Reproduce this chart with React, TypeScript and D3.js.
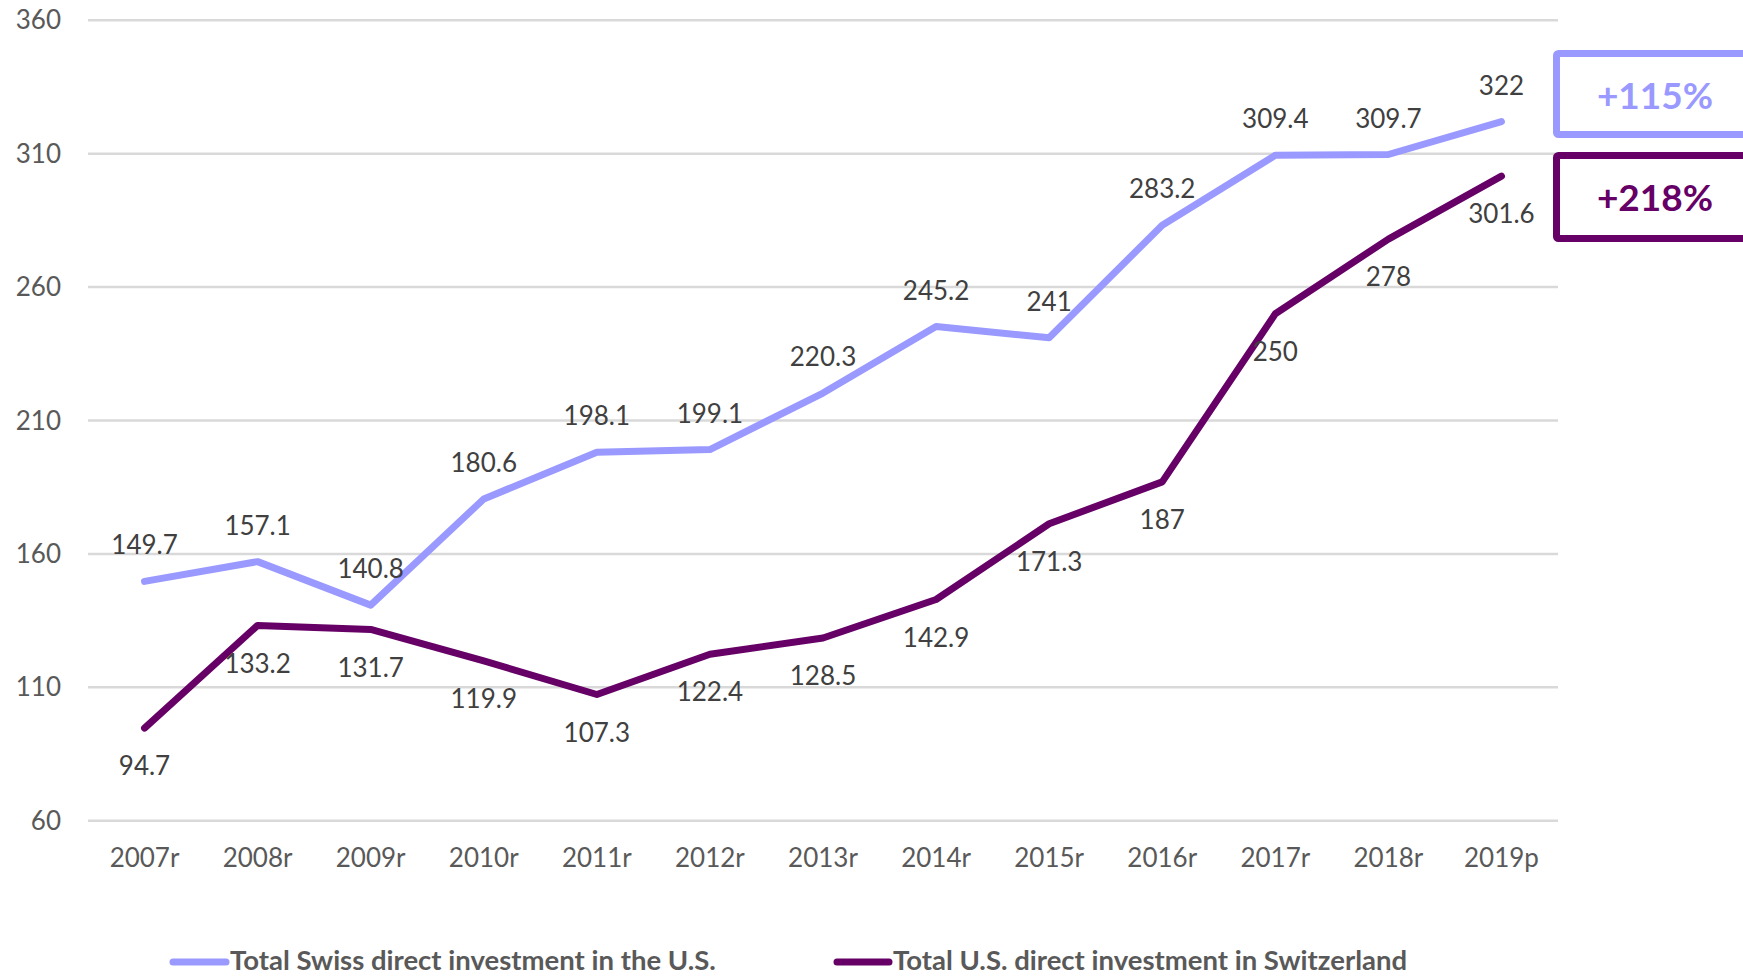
import React from "react";
import * as d3 from "d3";

const categories = ["2007r", "2008r", "2009r", "2010r", "2011r", "2012r", "2013r", "2014r", "2015r", "2016r", "2017r", "2018r", "2019p"];
const swissInUS = [149.7, 157.1, 140.8, 180.6, 198.1, 199.1, 220.3, 245.2, 241, 283.2, 309.4, 309.7, 322];
const usInSwiss = [94.7, 133.2, 131.7, 119.9, 107.3, 122.4, 128.5, 142.9, 171.3, 187, 250, 278, 301.6];
const yTicks = [60, 110, 160, 210, 260, 310, 360];
const seriesNames = ["Total Swiss direct investment in the U.S.", "Total U.S. direct investment in Switzerland"];
const growthLabels = ["+115%", "+218%"];

const W = 1743, H = 977;
const LIGHT = "#9999ff", DARK = "#660066";
const FONT = "Lato, 'Open Sans', sans-serif";

export default function App() {
  const x = d3.scalePoint<string>().domain(categories).range([88, 1558]).padding(0.5);
  const y = d3.scaleLinear().domain([60, 360]).range([820.7, 20.3]);
  const line = d3.line<number>().x((_, i) => x(categories[i])!).y(d => y(d));

  return (
    <svg width={W} height={H} style={{ position: "absolute", left: 0, top: 0, background: "#fff" }} fontFamily={FONT}>
      {yTicks.map(t => (
        <g key={t}>
          <line x1={88} x2={1558} y1={y(t)} y2={y(t)} stroke="#d9d9d9" strokeWidth={2.5} />
          <text x={61} y={y(t)} dy="0.35em" textAnchor="end" fontSize={26} fill="#595959">{t}</text>
        </g>
      ))}
      {categories.map(c => (
        <text key={c} x={x(c)} y={858} dy="0.35em" textAnchor="middle" fontSize={26} fill="#595959">{c}</text>
      ))}
      <path d={line(swissInUS) || ""} fill="none" stroke={LIGHT} strokeWidth={7} strokeLinecap="round" strokeLinejoin="round" />
      <path d={line(usInSwiss) || ""} fill="none" stroke={DARK} strokeWidth={7} strokeLinecap="round" strokeLinejoin="round" />
      {swissInUS.map((v, i) => (
        <text key={"a" + i} x={x(categories[i])} y={y(v) - 36} dy="0.35em" textAnchor="middle" fontSize={26} fill="#404040">{v}</text>
      ))}
      {usInSwiss.map((v, i) => (
        <text key={"b" + i} x={x(categories[i])} y={y(v) + 38} dy="0.35em" textAnchor="middle" fontSize={26} fill="#404040">{v}</text>
      ))}
      <rect x={1556.5} y={53.5} width={200} height={81} fill="#fff" stroke={LIGHT} strokeWidth={7} rx={2} />
      <text x={1655} y={96} dy="0.35em" textAnchor="middle" fontSize={37} fontWeight="bold" fill={LIGHT}>{growthLabels[0]}</text>
      <rect x={1556.5} y={155.5} width={200} height={83} fill="#fff" stroke={DARK} strokeWidth={7} rx={2} />
      <text x={1655} y={198} dy="0.35em" textAnchor="middle" fontSize={37} fontWeight="bold" fill={DARK}>{growthLabels[1]}</text>
      <line x1={173} x2={226} y1={962} y2={962} stroke={LIGHT} strokeWidth={7} strokeLinecap="round" />
      <text x={230} y={970} fontSize={27.5} fontWeight="bold" fill="#595959">{seriesNames[0]}</text>
      <line x1={837} x2={889} y1={962} y2={962} stroke={DARK} strokeWidth={7} strokeLinecap="round" />
      <text x={893} y={970} fontSize={27.5} fontWeight="bold" fill="#595959">{seriesNames[1]}</text>
    </svg>
  );
}
